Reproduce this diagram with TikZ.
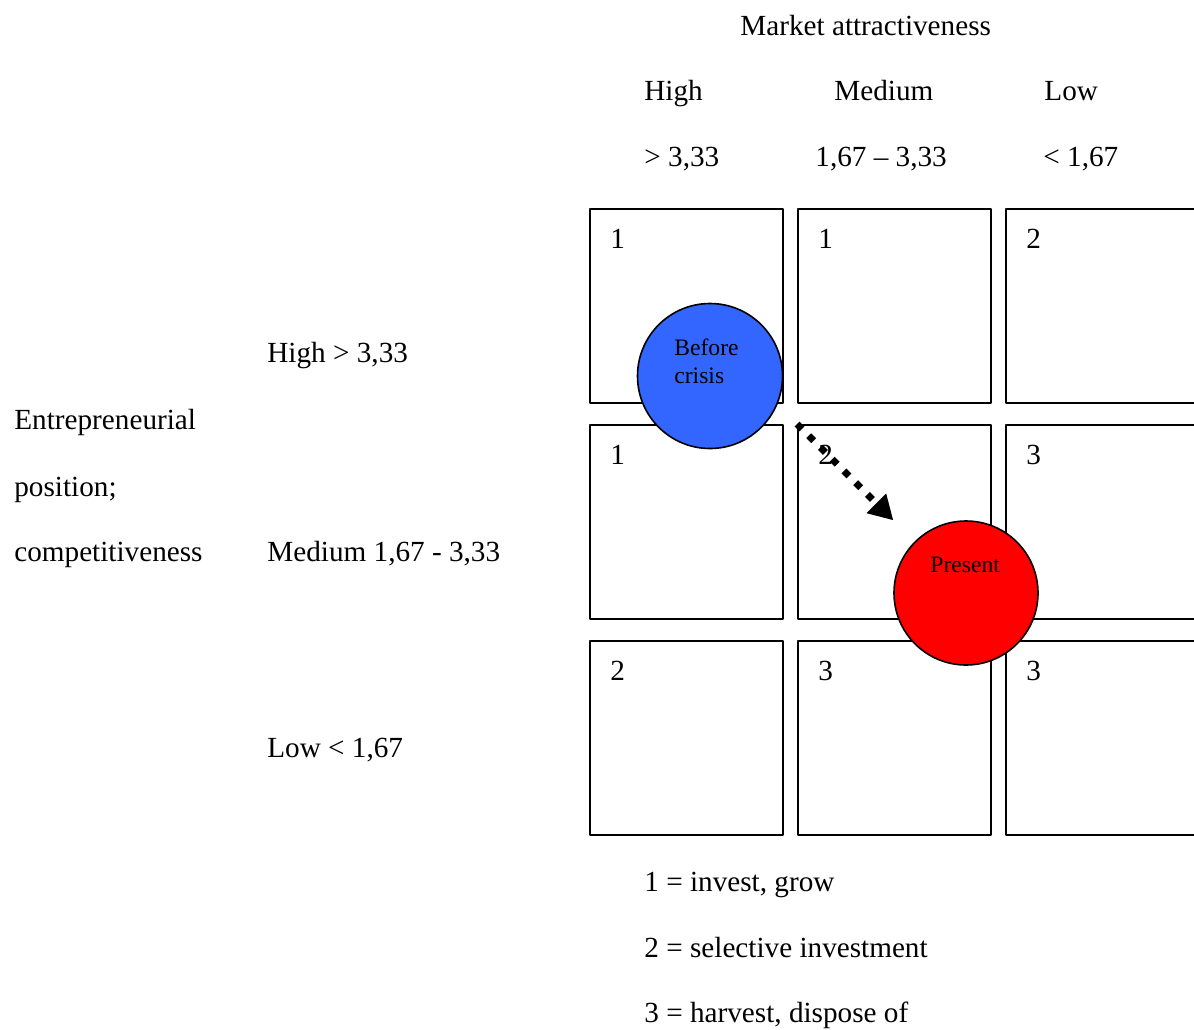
\documentclass[tikz,border=0pt]{standalone}
\usepackage{fontspec}
\setmainfont{Liberation Serif}
\usetikzlibrary{arrows.meta}
\definecolor{crisisblue}{RGB}{51,102,255}
\definecolor{presentred}{RGB}{255,0,0}
\begin{document}
\begin{tikzpicture}[x=.5pt, y=-.5pt, font=\fontsize{14.6}{17}\selectfont, line join=round,
    >={Triangle[length=12pt,width=13pt]},
    txt/.style={inner sep=0pt, anchor=base west},
    cell/.style={draw, line width=1pt, anchor=north west, minimum width=96.5pt, minimum height=97pt, inner sep=0pt},
    blob/.style={circle, draw, line width=.8pt, minimum size=72.5pt, inner sep=0pt},
    small/.style={font=\fontsize{11.8}{14}\selectfont, align=left},
    flow/.style={->, line width=3.5pt, dash pattern=on 3.5pt off 4.8pt, shorten >=15pt}]
    \useasboundingbox (0,0) rectangle (1194,1029);
    % the nine cells
    \foreach \r/\y in {1/208,2/424,3/640}
    \foreach \c/\x in {1/589,2/797,3/1005}
    \node[cell] (cell\r\c) at (\x,\y) {};
    \foreach \i/\n in {11/1,12/1,13/2,21/1,22/2,23/3,31/2,32/3,33/3}
    \node[txt] (num\i) at ([shift={(21,40)}]cell\i.north west) {\n};
    % headings
    \node[txt] (market) at (740,35) {Market attractiveness};
    \node[txt] (colhigh) at (644,100) {High};
    \node[txt] (colmed) at (834,100) {Medium};
    \node[txt] (collow) at (1044,100) {Low};
    \node[txt] (rangehigh) at (644,166) {> 3,33};
    \node[txt] (rangemed) at (815,166) {1,67 – 3,33};
    \node[txt] (rangelow) at (1043,166) {< 1,67};
    \node[txt] (pos1) at (14,429) {Entrepreneurial};
    \node[txt] (pos2) at (14,496) {position;};
    \node[txt] (pos3) at (14,561) {competitiveness};
    \node[txt] (rowhigh) at (267,362) {High > 3,33};
    \node[txt] (rowmed) at (267,561) {Medium 1,67 - 3,33};
    \node[txt] (rowlow) at (267,757) {Low < 1,67};
    % legend
    \foreach \n/\t/\y in {1/{invest, grow}/891,2/{selective investment}/957,3/{harvest, dispose of}/1022}
    \node[txt] (key\n) at (644,\y) {\n\ = \t};
    % positions
    \node[blob, fill=crisisblue] (before) at (710,376) {};
    \node[txt, small] (beforetxt) at (674,383) {Before\\crisis};
    \node[blob, fill=presentred, minimum size=72pt] (present) at (966,593) {};
    \node[txt, small] (presenttxt) at (930,572) {Present};
    \draw[flow] (cell22.north west) -- (present);
\end{tikzpicture}
\end{document}
